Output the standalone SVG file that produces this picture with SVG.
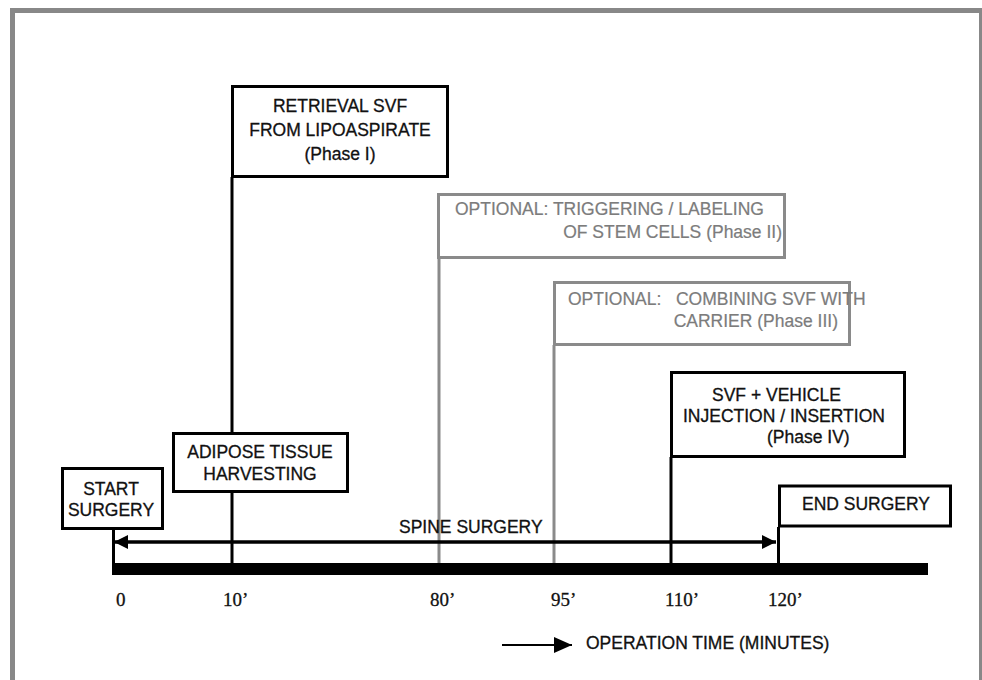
<svg xmlns="http://www.w3.org/2000/svg" width="982" height="680" viewBox="0 0 982 680">
<defs>
<style>
.t{font-family:"Liberation Sans",Arial,sans-serif;font-size:17.5px;fill:#111;stroke:#111;stroke-width:0.3}
.g{font-family:"Liberation Sans",Arial,sans-serif;font-size:17.5px;fill:#7c7c7c;stroke:#7c7c7c;stroke-width:0.2}
.n{font-family:"Liberation Serif","Times New Roman",serif;font-size:19px;fill:#111;stroke:#111;stroke-width:0.3}
.bk{fill:#fff;stroke:#000;stroke-width:3}
.gr{fill:#fff;stroke:#8a8a8a;stroke-width:3}
.lk{stroke:#000;stroke-width:3;fill:none}
.lg{stroke:#8a8a8a;stroke-width:3;fill:none}
</style>
<marker id="ah" markerUnits="userSpaceOnUse" markerWidth="16" markerHeight="14" refX="14" refY="7" orient="auto-start-reverse">
<path d="M0,0 L14,7 L0,14 Z" fill="#000"/>
</marker>
<marker id="ah2" markerUnits="userSpaceOnUse" markerWidth="20" markerHeight="18" refX="18" refY="8" orient="auto">
<path d="M0,0 L18,8 L0,16 Z" fill="#000"/>
</marker>
</defs>
<rect width="982" height="680" fill="#fff"/>
<g id="frame" fill="#888">
<rect x="10" y="8" width="972" height="5"/>
<rect x="10" y="8" width="5" height="672"/>
<rect x="979" y="8" width="3" height="672"/>
</g>
<rect id="timeline" x="112" y="563" width="816" height="12" fill="#000"/>
<g id="connectors">
<line class="lk" x1="113.5" y1="529" x2="113.5" y2="563"/>
<line class="lk" x1="232" y1="177" x2="232" y2="563"/>
<line class="lg" x1="439" y1="258" x2="439" y2="563"/>
<line class="lg" x1="554" y1="345" x2="554" y2="563"/>
<line class="lk" x1="671" y1="457" x2="671" y2="563"/>
<line class="lk" x1="778.5" y1="527" x2="778.5" y2="563"/>
<path d="M114,542 H776" stroke="#000" stroke-width="3.5" fill="none" marker-start="url(#ah)" marker-end="url(#ah)"/>
<path d="M502,645 H572" stroke="#000" stroke-width="2" fill="none" marker-end="url(#ah2)"/>
</g>
<g id="start">
<rect class="bk" x="62.5" y="468.5" width="100" height="60"/>
<text class="t" x="111" y="495" text-anchor="middle">START</text>
<text class="t" x="111" y="516" text-anchor="middle">SURGERY</text>
</g>
<g id="adipose">
<rect class="bk" x="173.5" y="433.5" width="174" height="58"/>
<text class="t" x="260" y="458" text-anchor="middle">ADIPOSE TISSUE</text>
<text class="t" x="260" y="480" text-anchor="middle">HARVESTING</text>
</g>
<g id="phase1">
<rect class="bk" x="232.5" y="86.5" width="215" height="90"/>
<text class="t" x="340" y="112" text-anchor="middle">RETRIEVAL SVF</text>
<text class="t" x="340" y="136" text-anchor="middle">FROM LIPOASPIRATE</text>
<text class="t" x="340" y="160" text-anchor="middle">(Phase I)</text>
</g>
<g id="phase2">
<rect class="gr" x="438.5" y="194.5" width="346" height="63"/>
<text class="g" x="455" y="215">OPTIONAL: TRIGGERING / LABELING</text>
<text class="g" x="782" y="238" text-anchor="end">OF STEM CELLS (Phase II)</text>
</g>
<g id="phase3">
<rect class="gr" x="554.5" y="282.5" width="295" height="62"/>
<text class="g" x="568" y="305" xml:space="preserve">OPTIONAL:   COMBINING SVF WITH</text>
<text class="g" x="838" y="327" text-anchor="end">CARRIER (Phase III)</text>
</g>
<g id="phase4">
<rect class="bk" x="671.5" y="372.5" width="233" height="84"/>
<text class="t" x="712" y="401">SVF + VEHICLE</text>
<text class="t" x="683" y="422">INJECTION / INSERTION</text>
<text class="t" x="767" y="443">(Phase IV)</text>
</g>
<g id="end">
<rect class="bk" x="779.5" y="486" width="171" height="40"/>
<text class="t" x="866" y="510" text-anchor="middle">END SURGERY</text>
</g>
<text class="t" x="399" y="533">SPINE SURGERY</text>
<g id="ticks">
<text class="n" x="116" y="606">0</text>
<text class="n" x="223" y="606">10’</text>
<text class="n" x="430" y="606">80’</text>
<text class="n" x="551" y="606">95’</text>
<text class="n" x="665" y="606">110’</text>
<text class="n" x="768" y="606">120’</text>
</g>
<text class="t" x="586" y="649">OPERATION TIME (MINUTES)</text>
</svg>
